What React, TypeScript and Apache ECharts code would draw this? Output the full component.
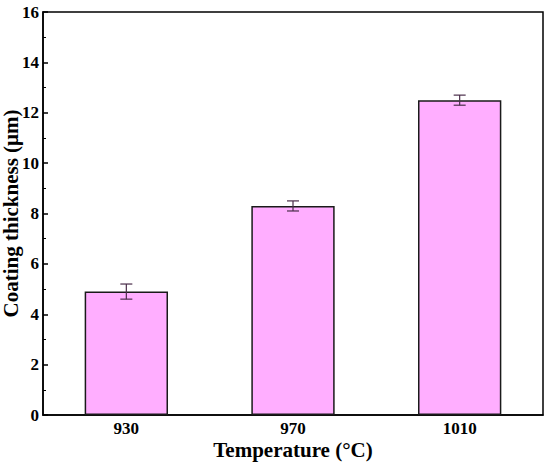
import React, { useEffect, useRef } from "react";
import * as echarts from "echarts";

const categories = ["930", "970", "1010"];
const thickness = [4.9, 8.3, 12.5];
const errors = [0.3, 0.2, 0.2];
const yTicks = { min: 0, max: 16, interval: 2 };

const FONT = "'Times New Roman', 'Liberation Serif', serif";

export default function App() {
  const ref = useRef<HTMLDivElement>(null);
  useEffect(() => {
    if (!ref.current) return;
    const chart = echarts.init(ref.current, undefined, { renderer: "svg" });
    const errData = categories.map((c, i) => [i, thickness[i] - errors[i], thickness[i] + errors[i]]);
    chart.setOption({
      animation: false,
      grid: {
        left: 43,
        right: 7,
        top: 12,
        bottom: 50,
        outerBoundsMode: "none",
        containLabel: false,
        show: true,
        borderColor: "#000",
        borderWidth: 1.5,
        backgroundColor: "transparent",
      },
      xAxis: {
        type: "category",
        data: categories,
        name: "Temperature (°C)",
        nameLocation: "middle",
        nameGap: 24,
        nameMoveOverlap: false,
        nameTextStyle: { fontFamily: FONT, fontWeight: "bold", fontSize: 21, color: "#000" },
        axisLine: { lineStyle: { color: "#000", width: 1.5 } },
        axisTick: { show: true, inside: true, alignWithLabel: true, length: 5, lineStyle: { color: "#000", width: 1.5 } },
        axisLabel: { fontFamily: FONT, fontWeight: "bold", fontSize: 17, color: "#000", margin: 5 },
        splitLine: { show: false },
      },
      yAxis: {
        type: "value",
        min: yTicks.min,
        max: yTicks.max,
        interval: yTicks.interval,
        name: "Coating thickness (μm)",
        nameLocation: "middle",
        nameGap: 22,
        nameMoveOverlap: false,
        nameTextStyle: { fontFamily: FONT, fontWeight: "bold", fontSize: 21, color: "#000" },
        axisLine: { show: true, lineStyle: { color: "#000", width: 1.5 } },
        axisTick: { show: true, inside: true, length: 5, lineStyle: { color: "#000", width: 1.5 } },
        minorTick: { show: true, splitNumber: 2, length: 3, lineStyle: { color: "#000", width: 1 } },
        axisLabel: { fontFamily: FONT, fontWeight: "bold", fontSize: 17, color: "#000", margin: 4 },
        splitLine: { show: false },
      },
      series: [
        {
          type: "bar",
          data: thickness,
          barWidth: "50%",
          itemStyle: { color: "#FFAEFF", borderColor: "#1a1a1a", borderWidth: 1.5 },
        },
        {
          type: "custom",
          data: errData,
          z: 10,
          renderItem: (params: any, api: any) => {
            const x = api.value(0);
            const lo = api.coord([x, api.value(1)]);
            const hi = api.coord([x, api.value(2)]);
            const w = 6;
            const style = { stroke: "#4a2d4a", lineWidth: 1.2 };
            return {
              type: "group",
              children: [
                { type: "line", shape: { x1: lo[0], y1: lo[1], x2: hi[0], y2: hi[1] }, style },
                { type: "line", shape: { x1: lo[0] - w, y1: lo[1], x2: lo[0] + w, y2: lo[1] }, style },
                { type: "line", shape: { x1: hi[0] - w, y1: hi[1], x2: hi[0] + w, y2: hi[1] }, style },
              ],
            };
          },
        },
      ],
    });
    return () => chart.dispose();
  }, []);
  return <div ref={ref} style={{ position: "absolute", left: 0, top: 0, width: 550, height: 465 }} />;
}
